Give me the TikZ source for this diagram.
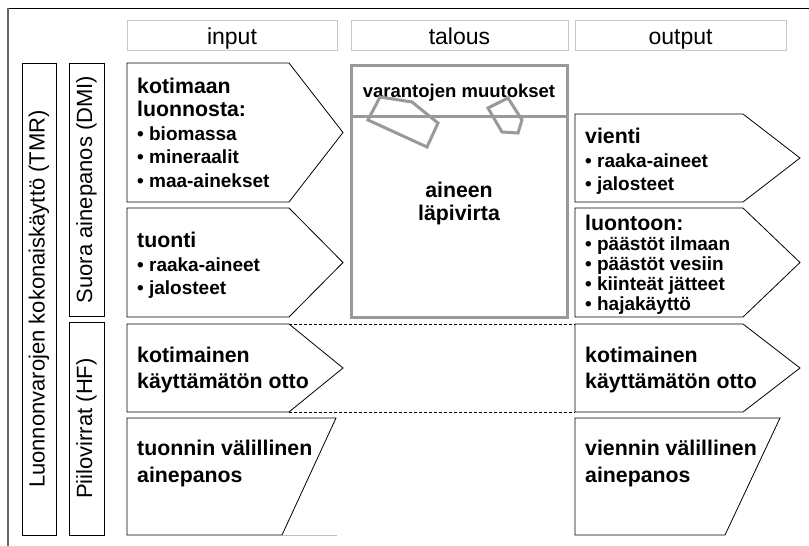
\documentclass[tikz,border=0pt]{standalone}
\usepackage{fontspec}
\setmainfont{Liberation Sans}
\tikzset{
  flow/.style={draw, line width=0.8pt, line join=miter},
  headbox/.style={draw=black!22, line width=0.8pt, minimum height=30pt, inner sep=0pt,
    text height=18pt, text depth=0pt, font=\fontsize{23}{27}\selectfont},
  sidebox/.style={draw, line width=0.8pt, rotate=90, inner sep=0pt,
    font=\fontsize{22}{26}\selectfont},
  flowtext/.style={anchor=north west, inner sep=0pt, align=left,
    font=\bfseries\fontsize{21.3}{23.5}\selectfont},
  stock/.style={draw=black!40, line width=3pt, line join=miter},
  hidden/.style={dash pattern=on 3pt off 2pt, line width=0.6pt},
}
\newcommand\bul[1]{{\fontsize{19}{19}\selectfont\textbullet\ #1}}

\begin{document}
\begin{tikzpicture}[x=1pt,y=-1pt]
\useasboundingbox (0,0) rectangle (809,546);
\draw[line width=0.8pt] (809,8) -- (8,8);
\draw[black!60, line width=1.2pt] (8,8) -- (8,546);

% otsikot
\node[headbox, minimum width=210pt] (input) at (232,35) {input};
\node[headbox, minimum width=217pt] (talous) at (459.5,35) {talous};
\node[headbox, minimum width=211pt] (output) at (680.5,35) {output};

% sivupalkit
\node[sidebox, minimum width=472pt, minimum height=34pt] (tmr) at (39,299)
  {Luonnonvarojen kokonaiskäyttö (TMR)};
\node[sidebox, minimum width=253pt, minimum height=35pt] (dmi) at (86.5,189.5)
  {Suora ainepanos (DMI)};
\node[sidebox, minimum width=213pt, minimum height=35pt] (hf) at (86.5,428.5)
  {Piilovirrat (HF)};

% input
\draw[flow] (127,63) -- (289,63) -- (343,132.5) -- (289,202) -- (127,202) -- cycle;
\node[flowtext] (kotimaa) at (137,77.5)
  {kotimaan\\luonnosta:\\\bul{biomassa}\\\bul{mineraalit}\\\bul{maa-ainekset}};
\draw[flow] (127,208) -- (289,208) -- (343,262.5) -- (289,317) -- (127,317) -- cycle;
\node[flowtext] (tuonti) at (137,232) {tuonti\\\bul{raaka-aineet}\\\bul{jalosteet}};
\draw[flow] (127,324) -- (289,324) coordinate (hfin-top) -- (343,368)
  -- (289,412) coordinate (hfin-bot) -- (127,412) -- cycle;
\node[flowtext, font=\bfseries\fontsize{21.3}{26.5}\selectfont] (ottoin) at (137,346.5)
  {kotimainen\\käyttämätön otto};
\draw[flow] (127,418) -- (336,418) -- (282,535) -- (127,535) -- cycle;
\draw[black!25, line width=0.8pt] (282,535) -- (337,535);
\node[flowtext, font=\bfseries\fontsize{21.3}{26.7}\selectfont] (tuonninhf) at (137,440)
  {tuonnin välillinen\\ainepanos};

% talous
\draw[stock] (351,65) rectangle (567,317);
\draw[stock] (351,116) -- (567,116);
\node[anchor=base, inner sep=0pt, font=\bfseries\fontsize{18.5}{22}\selectfont]
  (varannot) at (459,97) {varantojen muutokset};
\draw[stock] (380,97) -- (412,102) -- (438,123) -- (427,147) -- (368,120) -- cycle;
\draw[stock] (488,108) -- (508,98) -- (522,120) -- (518,133) -- (502,132) -- cycle;
\node[anchor=north, align=center, inner sep=0pt, font=\bfseries\fontsize{21.3}{23}\selectfont]
  (lapivirta) at (459,182) {aineen\\läpivirta};

% output
\draw[flow] (575,114) -- (743,114) -- (800,158) -- (743,202) -- (575,202) -- cycle;
\node[flowtext] (vienti) at (585,128) {vienti\\\bul{raaka-aineet}\\\bul{jalosteet}};
\draw[flow] (575,208) -- (743,208) -- (800,262.5) -- (743,317) -- (575,317) -- cycle;
\node[flowtext, font=\bfseries\fontsize{21.3}{20}\selectfont] (luontoon) at (585,214.5)
  {luontoon:\\[0.5pt]\bul{päästöt ilmaan}\\\bul{päästöt vesiin}\\\bul{kiinteät jätteet}\\\bul{hajakäyttö}};
\draw[flow] (575,324) coordinate (hfout-top) -- (743,324) -- (800,368)
  -- (743,412) -- (575,412) coordinate (hfout-bot) -- cycle;
\node[flowtext, font=\bfseries\fontsize{21.3}{26.5}\selectfont] (ottoout) at (585,346.5)
  {kotimainen\\käyttämätön otto};
\draw[flow] (575,418) -- (780,418) -- (725,535) -- (575,535) -- cycle;
\node[flowtext, font=\bfseries\fontsize{21.3}{26.7}\selectfont] (viennin) at (585,440)
  {viennin välillinen\\ainepanos};

\draw[hidden] (hfin-top) -- (hfout-top);
\draw[hidden] (hfin-bot) -- (hfout-bot);
\end{tikzpicture}
\end{document}
